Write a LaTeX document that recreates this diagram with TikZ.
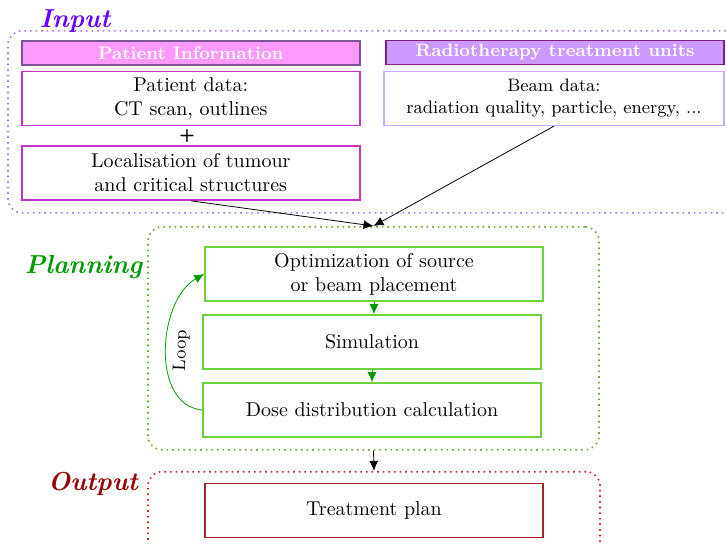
\documentclass[tikz,border=0pt]{standalone}
\usepackage{tikz}
\usetikzlibrary{arrows.meta, positioning}
\definecolor{inviolet}{RGB}{102,0,255}
\definecolor{inframe}{RGB}{170,120,225}
\definecolor{pihead}{RGB}{255,153,255}
\definecolor{piedge}{RGB}{125,85,150}
\definecolor{pibox}{RGB}{200,50,200}
\definecolor{rthead}{RGB}{204,153,255}
\definecolor{rtedge}{RGB}{128,32,128}
\definecolor{rtbox}{RGB}{205,170,255}
\definecolor{plgreen}{RGB}{0,153,0}
\definecolor{plframe}{RGB}{102,170,51}
\definecolor{plbox}{RGB}{110,210,60}
\definecolor{outred}{RGB}{153,0,0}
\definecolor{outframe}{RGB}{190,40,40}
\definecolor{outbox}{RGB}{165,35,35}

\begin{document}
\begin{tikzpicture}[x=0.5pt, y=-0.5pt,
    box/.style={draw, line width=0.8pt, fill=white, minimum width=169pt,
      minimum height=27pt, inner sep=1pt, align=center},
    head/.style={draw, line width=0.8pt, minimum width=169pt, minimum height=12pt,
      inner sep=0pt, text=white, font=\small\bfseries},
    grp/.style={draw, dotted, line width=0.8pt, rounded corners=7pt, inner sep=0pt},
    ttl/.style={font=\fontsize{13}{15}\selectfont\bfseries\itshape},
    arr/.style={-{Latex[length=5pt, width=4.5pt]}, line width=0.4pt}
]
\clip (0,0) rectangle (726,543);
%% INPUT
\node[grp, draw=inframe, minimum width=366pt, minimum height=91pt] (inp) at (374,121.8) {};
\node[ttl, text=inviolet] (inlbl) at (75,21.5) {Input};
\node[head, fill=pihead, draw=piedge] (pihd) at (190.8,52.8) {Patient Information};
\node[box, draw=pibox] (pdata) at (190.8,98.3) {Patient data:\\CT scan, outlines};
\node[font=\small\sffamily\bfseries] (plus) at (187,135.5) {+};
\node[box, draw=pibox] (loc) at (190.8,173) {Localisation of tumour\\ and critical structures};
\node[head, fill=rthead, draw=rtedge] (rthd) at (555,52.5) {Radiotherapy treatment units};
\node[box, draw=rtbox, minimum width=170pt, font=\small] (beam) at (554,98.3)
  {Beam data:\\radiation quality, particle, energy, ...};
%% PLANNING
\node[grp, draw=plframe, minimum width=225.5pt, minimum height=111.5pt] (plan) at (373.5,338.3) {};
\node[ttl, text=plgreen] (pllbl) at (83.5,267.5) {Planning};
\node[box, draw=plbox] (opt) at (374,274) {Optimization of source\\or beam placement};
\node[box, draw=plbox] (sim) at (372,342) {Simulation};
\node[box, draw=plbox] (dose) at (372,410) {Dose distribution calculation};
%% OUTPUT
\node[grp, draw=outframe, minimum width=226pt, minimum height=60pt] (out) at (374,531.7) {};
\node[ttl, text=outred] (outlbl) at (93,484) {Output};
\node[box, draw=outbox] (plan2) at (374,510.5) {Treatment plan};
%% arrows
\draw[arr] (loc.south) -- (plan.north);
\draw[arr] (beam.south) -- (plan.north);
\draw[arr] (plan.south) -- (out.north);
\draw[arr, plgreen] (opt.south) -- (opt.south |- sim.north);
\draw[arr, plgreen] (sim.south) -- (dose.north);
\draw[arr, plgreen] (dose.west) .. controls (150,405) and (158,300) .. (opt.west)
  node[midway, sloped, below, text=black, font=\small] {Loop};
\end{tikzpicture}
\end{document}
